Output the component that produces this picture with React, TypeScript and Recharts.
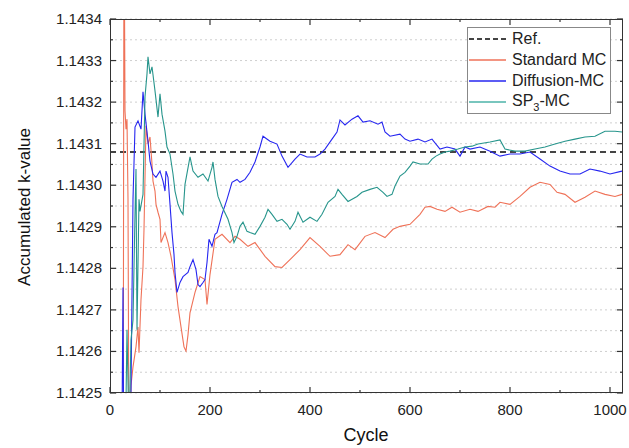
import React from 'react';
import { LineChart, Line, XAxis, YAxis, CartesianGrid, ReferenceLine, Legend } from 'recharts';

// ---- data ----
const REF_K = 1.14308;

const stdCycle = [26, 28, 30, 32, 34, 36, 38, 42, 46, 52, 56, 58, 62, 66, 68, 72, 76, 80, 84, 86, 90, 92, 96, 100, 102, 110, 116, 122, 130, 136, 142, 148, 152, 156, 160, 170, 180, 190, 194, 200, 210, 224, 240, 250, 260, 276, 290, 310, 330, 344, 360, 380, 400, 420, 440, 460, 476, 490, 510, 530, 550, 566, 580, 600, 620, 630, 640, 654, 670, 684, 700, 720, 736, 756, 770, 780, 800, 820, 840, 860, 880, 894, 910, 930, 950, 970, 990, 1010, 1024];
const stdK = [1.1420, 1.1437, 1.143179, 1.143135, 1.143159, 1.142966, 1.1423, 1.142519, 1.142563, 1.142611, 1.142659, 1.142597, 1.142725, 1.142804, 1.142894, 1.143143, 1.143099, 1.143116, 1.143051, 1.143010, 1.142986, 1.142954, 1.142935, 1.142918, 1.142862, 1.142886, 1.142862, 1.142829, 1.142773, 1.142708, 1.142659, 1.142611, 1.142601, 1.142640, 1.142693, 1.142742, 1.142780, 1.142773, 1.142713, 1.142785, 1.142870, 1.142882, 1.142862, 1.142877, 1.142870, 1.142853, 1.142862, 1.142829, 1.142804, 1.142802, 1.142821, 1.142845, 1.142874, 1.142853, 1.142829, 1.142833, 1.142857, 1.142845, 1.142877, 1.142886, 1.142874, 1.142894, 1.142901, 1.142906, 1.142930, 1.142947, 1.142949, 1.142942, 1.142937, 1.142947, 1.142935, 1.142942, 1.142937, 1.142949, 1.142947, 1.142959, 1.142954, 1.142973, 1.142995, 1.143007, 1.143002, 1.142983, 1.142978, 1.142959, 1.142971, 1.142986, 1.142978, 1.142973, 1.142978];

const difCycle = [22, 26, 28, 38, 42, 46, 50, 56, 62, 66, 70, 76, 80, 86, 92, 100, 106, 110, 112, 116, 120, 124, 128, 130, 134, 140, 146, 156, 160, 166, 172, 176, 180, 186, 190, 194, 198, 204, 210, 214, 224, 234, 244, 254, 260, 270, 280, 290, 300, 306, 320, 334, 344, 356, 370, 380, 394, 410, 420, 430, 444, 454, 460, 470, 484, 496, 506, 520, 536, 544, 550, 560, 580, 590, 600, 616, 630, 644, 660, 674, 690, 700, 710, 720, 740, 760, 780, 800, 820, 840, 860, 880, 900, 920, 940, 960, 980, 1000, 1024];
const difK = [1.1421, 1.142754, 1.1422, 1.1423, 1.142507, 1.142966, 1.143140, 1.143155, 1.143135, 1.143225, 1.143171, 1.143106, 1.143058, 1.143027, 1.143019, 1.143034, 1.143010, 1.142986, 1.143034, 1.143019, 1.142954, 1.142886, 1.142833, 1.142790, 1.142742, 1.142766, 1.142780, 1.142790, 1.142804, 1.142821, 1.142797, 1.142761, 1.142756, 1.142766, 1.142773, 1.142814, 1.142870, 1.142853, 1.142882, 1.142886, 1.142930, 1.142966, 1.143007, 1.143014, 1.143007, 1.143014, 1.143031, 1.143056, 1.143092, 1.143118, 1.143106, 1.143099, 1.143070, 1.143043, 1.143063, 1.143075, 1.143068, 1.143068, 1.143075, 1.143087, 1.143111, 1.143128, 1.143157, 1.143145, 1.143159, 1.143167, 1.143152, 1.143155, 1.143147, 1.143152, 1.143128, 1.143118, 1.143123, 1.143111, 1.143106, 1.143111, 1.143104, 1.143111, 1.143087, 1.143092, 1.143087, 1.143070, 1.143092, 1.143087, 1.143092, 1.143082, 1.143070, 1.143075, 1.143075, 1.143080, 1.143063, 1.143046, 1.143034, 1.143027, 1.143027, 1.143039, 1.143034, 1.143027, 1.143034];

const spCycle = [30, 34, 38, 42, 46, 50, 52, 54, 58, 60, 66, 70, 74, 76, 80, 84, 90, 96, 100, 104, 110, 114, 120, 126, 130, 136, 142, 146, 150, 160, 166, 176, 186, 196, 204, 206, 210, 216, 224, 236, 244, 248, 254, 260, 266, 274, 280, 290, 300, 310, 316, 324, 334, 344, 354, 360, 370, 376, 386, 400, 414, 424, 436, 450, 456, 464, 476, 494, 504, 520, 534, 546, 554, 564, 570, 580, 590, 600, 606, 620, 636, 644, 652, 660, 670, 680, 696, 710, 724, 736, 760, 780, 790, 810, 830, 850, 870, 890, 910, 930, 950, 970, 990, 1010, 1024];
const spK = [1.1423, 1.142652, 1.1424, 1.142628, 1.142676, 1.142930, 1.143039, 1.142652, 1.142966, 1.142937, 1.142978, 1.143213, 1.143268, 1.143309, 1.143268, 1.143285, 1.143227, 1.143164, 1.143220, 1.143171, 1.143130, 1.143092, 1.143075, 1.143027, 1.142986, 1.142954, 1.142937, 1.142930, 1.143002, 1.143068, 1.143034, 1.143019, 1.143027, 1.143010, 1.143043, 1.143056, 1.143014, 1.142973, 1.142949, 1.142918, 1.142886, 1.142862, 1.142877, 1.142901, 1.142911, 1.142889, 1.142886, 1.142882, 1.142901, 1.142923, 1.142942, 1.142930, 1.142913, 1.142918, 1.142906, 1.142894, 1.142913, 1.142935, 1.142911, 1.142923, 1.142913, 1.142930, 1.142959, 1.142973, 1.142990, 1.142978, 1.142961, 1.142973, 1.142983, 1.142990, 1.142995, 1.142983, 1.142973, 1.142978, 1.142998, 1.143022, 1.143031, 1.143046, 1.143056, 1.143051, 1.143051, 1.143063, 1.143070, 1.143075, 1.143080, 1.143082, 1.143087, 1.143092, 1.143094, 1.143099, 1.143104, 1.143109, 1.143087, 1.143082, 1.143082, 1.143087, 1.143092, 1.143099, 1.143106, 1.143111, 1.143116, 1.143118, 1.143130, 1.143130, 1.143128];

const X_MAJOR = [0, 200, 400, 600, 800, 1000];
const X_MINOR = [100, 300, 500, 700, 900];
const Y_MAJOR = [1.1425, 1.1426, 1.1427, 1.1428, 1.1429, 1.143, 1.1431, 1.1432, 1.1433, 1.1434];
const Y_MINOR = [1.14255, 1.14265, 1.14275, 1.14285, 1.14295, 1.14305, 1.14315, 1.14325, 1.14335];

const SERIES = [
  { name: 'Standard MC', color: '#EF7258' },
  { name: 'Diffusion-MC', color: '#2626F0' },
  { name: 'SP3-MC', color: '#27958C' },
];

const toRows = (c: number[], k: number[]) => c.map((cycle, i) => ({ cycle, k: k[i] }));
const stdData = toRows(stdCycle, stdK);
const difData = toRows(difCycle, difK);
const spData = toRows(spCycle, spK);

const X_TICKS = [...X_MAJOR, ...X_MINOR].sort((a, b) => a - b);
const Y_TICKS = [...Y_MAJOR, ...Y_MINOR].sort((a, b) => a - b);

// ---- layout ----
const W = 629, H = 448;
const PL = 110, PR = 623, PT = 19, PB = 393;
const AX = '#333';
const FONT = '"Liberation Sans", Arial, sans-serif';

function YTick({ y, payload }: any) {
  const major = Y_MAJOR.includes(payload.value);
  const len = major ? 6 : 3;
  return (
    <g>
      <line x1={PL} x2={PL + len} y1={y} y2={y} stroke={AX} strokeWidth={1.2} />
      <line x1={PR - len} x2={PR} y1={y} y2={y} stroke={AX} strokeWidth={1.2} />
      {major && (
        <text x={PL - 8} y={y} dy={5} textAnchor="end" fontSize={15} fontFamily={FONT} fill="#222">
          {payload.value.toFixed(4)}
        </text>
      )}
    </g>
  );
}

function XTick({ x, payload }: any) {
  const major = X_MAJOR.includes(payload.value);
  const len = major ? 6 : 3;
  return (
    <g>
      <line x1={x} x2={x} y1={PB} y2={PB - len} stroke={AX} strokeWidth={1.2} />
      <line x1={x} x2={x} y1={PT} y2={PT + len} stroke={AX} strokeWidth={1.2} />
      {major && (
        <text x={x} y={PB + 22} textAnchor="middle" fontSize={15} fontFamily={FONT} fill="#222">
          {payload.value}
        </text>
      )}
    </g>
  );
}

const XLabel = () => (
  <text x={366} y={441} textAnchor="middle" fontSize={18} fontFamily={FONT} fill="#111">Cycle</text>
);
const YLabel = () => (
  <text x={30} y={207} transform="rotate(-90, 30, 207)" textAnchor="middle" fontSize={17} fontFamily={FONT} fill="#111">
    Accumulated k-value
  </text>
);

function LegendBox() {
  const rows = [
    { label: <>Ref.</>, color: '#444', dash: '5 3', w: 2 },
    { label: <>Standard MC</>, color: SERIES[0].color, dash: undefined, w: 1.3 },
    { label: <>Diffusion-MC</>, color: SERIES[1].color, dash: undefined, w: 1.3 },
    { label: <>SP<span style={{ fontSize: 11, position: 'relative', top: 5 }}>3</span>-MC</>, color: '#4DB3A9', dash: undefined, w: 1.6 },
  ];
  return (
    <div style={{ width: 144, height: 87, boxSizing: 'border-box', border: '1px solid #888', background: '#fff', fontFamily: FONT, fontSize: 16, color: '#222' }}>
      {rows.map((r, i) => (
        <div key={i} style={{ height: 21, display: 'flex', alignItems: 'center' }}>
          <svg width={40} height={6} style={{ flexShrink: 0 }}>
            <line x1={1} x2={38} y1={3} y2={3} stroke={r.color} strokeWidth={r.w} strokeDasharray={r.dash} />
          </svg>
          <span style={{ marginLeft: 4, lineHeight: '21px', whiteSpace: 'nowrap' }}>{r.label}</span>
        </div>
      ))}
    </div>
  );
}

export default function App() {
  return (
    <div style={{ position: 'absolute', left: 0, top: 0, width: W, height: H, background: '#fff' }}>
      <LineChart width={W} height={H} margin={{ top: PT, right: W - PR, bottom: 0, left: 0 }}>
        <CartesianGrid vertical={false} stroke="#cfcfcf" strokeDasharray="2 3" />
        <XAxis type="number" dataKey="cycle" domain={[0, 1026]} ticks={X_TICKS} interval={0}
          allowDataOverflow height={H - PB} axisLine={false} tickLine={false} tick={<XTick />}
          label={<XLabel />} />
        <YAxis type="number" domain={[1.1425, 1.1434]} ticks={Y_TICKS} interval={0}
          allowDataOverflow width={PL} axisLine={false} tickLine={false} tick={<YTick />}
          label={<YLabel />} />
        <ReferenceLine y={REF_K} stroke="#444" strokeWidth={2} strokeDasharray="6 4" />
        <Line data={stdData} dataKey="k" name={SERIES[0].name} stroke={SERIES[0].color} strokeWidth={1.1}
          dot={false} isAnimationActive={false} />
        <Line data={difData} dataKey="k" name={SERIES[1].name} stroke={SERIES[1].color} strokeWidth={1.1}
          dot={false} isAnimationActive={false} />
        <Line data={spData} dataKey="k" name={SERIES[2].name} stroke={SERIES[2].color} strokeWidth={1.1}
          dot={false} isAnimationActive={false} />
        <Legend layout="horizontal" verticalAlign="middle" align="center" content={() => <LegendBox />}
          wrapperStyle={{ left: 467, top: 27, width: 144, height: 87 }} />
      </LineChart>
      <div style={{ position: 'absolute', left: PL, top: PT, width: PR - PL, height: PB - PT, boxSizing: 'border-box', border: `1.3px solid ${AX}`, pointerEvents: 'none' }} />
    </div>
  );
}
